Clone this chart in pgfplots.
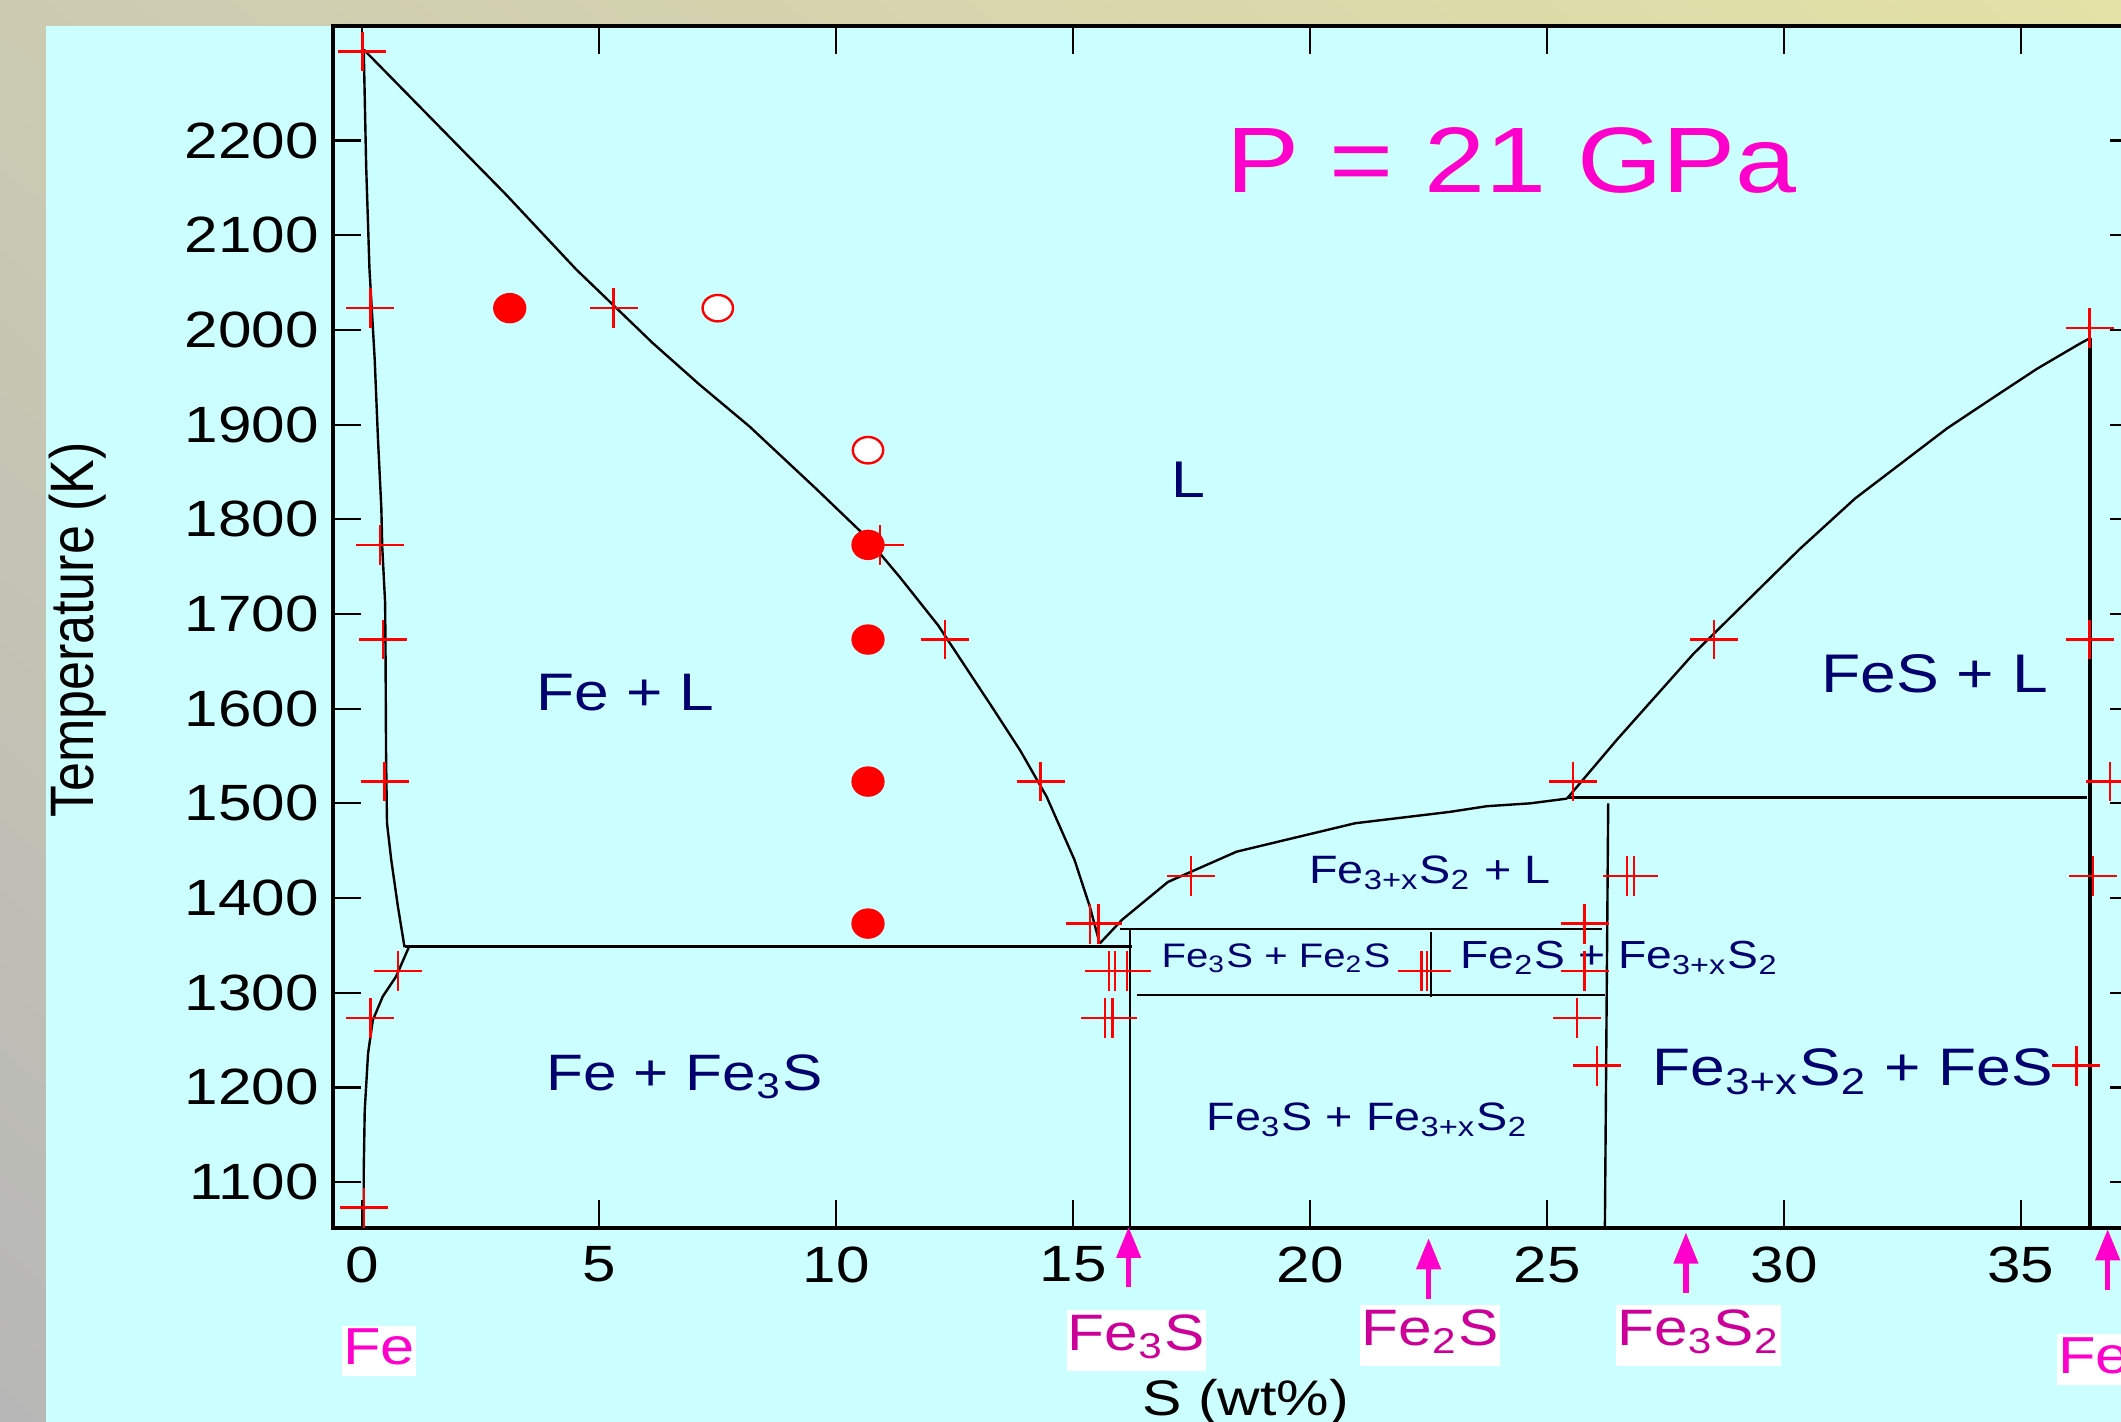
\documentclass[border=0pt]{standalone}
\usepackage{pgfplots}
\pgfplotsset{compat=1.18}
\usetikzlibrary{arrows.meta,shadings}
\usepackage{fontspec}
\setmainfont{Liberation Sans}
\definecolor{panel}{RGB}{204,255,255}
\definecolor{navy}{RGB}{0,0,110}
\definecolor{mag}{RGB}{255,0,204}
\definecolor{dmag}{RGB}{204,0,153}
\definecolor{bgTL}{RGB}{204,203,178}
\definecolor{bgTR}{RGB}{228,226,166}
\definecolor{bgBL}{RGB}{183,183,183}
\definecolor{bgBR}{RGB}{210,210,190}
\newcommand{\sx}[1]{\scalebox{1.18}[1]{#1}}
\newcommand{\fs}[1]{\fontsize{#1}{#1}\selectfont}
\newcommand{\Fexs}{Fe\textsubscript{3+x}S\textsubscript{2}}
\pgfplotsset{
  crs/.style={only marks, mark=+, color=red, mark size=6pt, mark options={yscale=0.83, line width=0.6pt}},
  fdot/.style={only marks, mark=*, color=red, mark size=3.6pt, mark options={xscale=1.1, fill=red, draw=red}},
  odot/.style={only marks, mark=*, color=red, mark size=3.8pt, mark options={yscale=0.87, fill=white, draw=red, line width=0.6pt}},
  pl/.style={black, line width=0.6pt, mark=none},
}
\begin{document}
\begin{tikzpicture}
\shade[upper left=bgTL, upper right=bgTR, lower left=bgBL, lower right=bgBR] (-83.25pt,-48.375pt) rectangle (447pt,307.125pt);
\fill[panel] (-71.75pt,-48.375pt) rectangle (447pt,300.625pt);
\begin{axis}[
  at={(0pt,0pt)}, anchor=south west,
  scale only axis, width=451.25pt, height=300.625pt,
  xmin=-0.62, xmax=37.47, ymin=1051, ymax=2321,
  axis line style={line width=1pt},
  xtick={0,5,...,35}, ytick={1100,1200,...,2200},
  tick align=inside, major tick length=7pt,
  every tick/.style={black, line width=0.55pt},
  xticklabel={\sx{\pgfmathprintnumber[assume math mode=true]{\tick}}},
  yticklabel={\sx{\pgfmathprintnumber[assume math mode=true,1000 sep={}]{\tick}}},
  ticklabel style={font=\fs{12.75}},
  xticklabel style={yshift=-1pt},
  clip=false,
]
% phase boundaries
\addplot[pl] coordinates {(0.03,2294) (0.08,2173) (0.15,2064) (0.26,1969) (0.33,1884) (0.40,1812) (0.42,1770) (0.48,1712) (0.49,1650) (0.50,1549) (0.52,1479) (0.61,1440) (0.75,1391) (0.89,1348)};
\addplot[pl] coordinates {(0.98,1348) (0.71,1317) (0.43,1296) (0.22,1271) (0.12,1236) (0.05,1176) (0.03,1116) (0.03,1051)};
\addplot[pl] coordinates {(0.03,2296) (3.03,2143) (4.51,2064) (6.13,1986) (7.12,1942) (8.17,1898) (9.58,1832) (10.60,1783) (11.34,1739) (12.15,1688) (13.31,1600) (13.88,1556) (14.44,1507) (15.03,1440) (15.35,1391) (15.56,1352)};
\addplot[pl] coordinates {(0.89,1349) (16.24,1349)};
\addplot[pl] coordinates {(15.56,1352) (16.03,1377) (17.0,1417) (18.45,1449) (20.95,1479) (22.95,1491) (23.73,1497) (24.64,1500) (25.42,1505)};
\addplot[pl] coordinates {(25.42,1506) (36.40,1506)};
\addplot[pl] coordinates {(25.42,1505) (26.47,1567) (28.09,1658) (30.34,1769) (31.5,1822) (33.44,1896) (34.43,1929) (35.34,1959) (36.26,1986) (36.45,1991)};
\addplot[black, line width=1pt, mark=none] coordinates {(36.45,1991) (36.45,1051)};
\addplot[pl] coordinates {(16.2,1367) (16.2,1051)};
\addplot[pl] coordinates {(26.29,1500) (26.22,1051)};
\addplot[pl] coordinates {(15.99,1367) (26.15,1367)};
\addplot[pl] coordinates {(16.34,1297.5) (26.22,1297.5)};
\addplot[pl] coordinates {(22.55,1364) (22.55,1296)};
% data points
\addplot[crs] coordinates {(0,2294) (0.17,2023) (0.37,1773) (0.44,1673) (0.47,1523) (0.75,1323) (0.17,1273) (0.03,1073)
 (5.30,2023) (10.92,1773) (12.29,1673) (14.31,1523)
 (15.35,1373) (15.53,1373) (15.76,1323) (15.88,1323) (16.13,1323) (15.67,1273) (15.83,1273)
 (17.48,1423) (22.35,1323) (22.47,1323)
 (25.55,1523) (25.79,1373) (25.79,1323) (25.63,1273) (26.05,1223) (26.69,1423) (26.83,1423)
 (28.52,1673) (36.45,2002) (36.45,1673) (36.88,1523) (36.52,1423) (36.17,1223)};
\addplot[fdot] coordinates {(3.11,2023) (10.67,1773) (10.67,1673) (10.67,1523) (10.67,1373)};
\addplot[odot] coordinates {(7.50,2023) (10.67,1873)};
% labels
\node[mag, anchor=base, font=\fs{23.25}] at (axis cs:24.25,2145) {\sx{P = 21 GPa}};
\node[navy, anchor=base, font=\fs{12.9}] at (axis cs:17.44,1823) {\sx{L}};
\node[navy, anchor=base, font=\fs{13.2}] at (axis cs:5.55,1598) {\sx{Fe + L}};
\node[navy, anchor=base, font=\fs{12.8}] at (axis cs:6.8,1197) {\sx{Fe + Fe\textsubscript{3}S}};
\node[navy, anchor=base, font=\fs{9.9}] at (axis cs:22.53,1415) {\sx{\Fexs{} + L}};
\node[navy, anchor=base, font=\fs{8.5}] at (axis cs:19.28,1327) {\sx{Fe\textsubscript{3}S + Fe\textsubscript{2}S}};
\node[navy, anchor=base, font=\fs{9.8}] at (axis cs:26.53,1326) {\sx{Fe\textsubscript{2}S + \Fexs}};
\node[navy, anchor=base, font=\fs{9.9}] at (axis cs:21.21,1155) {\sx{Fe\textsubscript{3}S + \Fexs}};
\node[navy, anchor=base, font=\fs{13.2}] at (axis cs:31.45,1202) {\sx{\Fexs{} + FeS}};
\node[navy, anchor=base, font=\fs{13.6}] at (axis cs:33.18,1617) {\sx{FeS + L}};
% axis labels
\node[rotate=90, font=\fs{13}] at (axis cs:-6.0,1683) {\scalebox{1}[1.18]{Temperature (K)}};
\node[anchor=base, font=\fs{12.5}] at (axis cs:18.64,854) {\sx{S (wt\%)}};
% compound arrows
\draw[mag, line width=1.4pt, -{Triangle[width=5.9pt,length=7.8pt]}] (axis cs:16.17,989) -- (axis cs:16.17,1052.8);
\draw[mag, line width=1.4pt, -{Triangle[width=5.9pt,length=7.8pt]}] (axis cs:22.50,976.5) -- (axis cs:22.50,1040.9);
\draw[mag, line width=1.4pt, -{Triangle[width=5.9pt,length=7.8pt]}] (axis cs:27.93,982.8) -- (axis cs:27.93,1046.9);
\draw[mag, line width=1.4pt, -{Triangle[width=5.9pt,length=7.8pt]}] (axis cs:36.83,986) -- (axis cs:36.83,1050.4);
\node[mag, fill=white, anchor=base, inner xsep=0.3pt, inner ysep=0pt, text height=9.75pt, text depth=2.9pt, font=\fs{13}] at (axis cs:0.35,907) {\sx{Fe}};
\node[dmag, fill=white, anchor=base, inner xsep=0.3pt, inner ysep=0pt, text height=10pt, text depth=5.2pt, font=\fs{12.8}] at (axis cs:16.33,922.6) {\sx{Fe\textsubscript{3}S}};
\node[dmag, fill=white, anchor=base, inner xsep=0.3pt, inner ysep=0pt, text height=10pt, text depth=5.2pt, font=\fs{12.8}] at (axis cs:22.53,927.9) {\sx{Fe\textsubscript{2}S}};
\node[dmag, fill=white, anchor=base, inner xsep=0.3pt, inner ysep=0pt, text height=10pt, text depth=5.2pt, font=\fs{12.8}] at (axis cs:28.2,927.9) {\sx{Fe\textsubscript{3}S\textsubscript{2}}};
\node[mag, fill=white, anchor=base west, inner xsep=0.3pt, inner ysep=0pt, text height=9.75pt, text depth=2.9pt, font=\fs{13}] at (axis cs:35.75,898) {\sx{FeS}};
\end{axis}
\pgfresetboundingbox
\path[use as bounding box] (-83.25pt,-48.375pt) rectangle (447pt,307.125pt);
\end{tikzpicture}
\end{document}
